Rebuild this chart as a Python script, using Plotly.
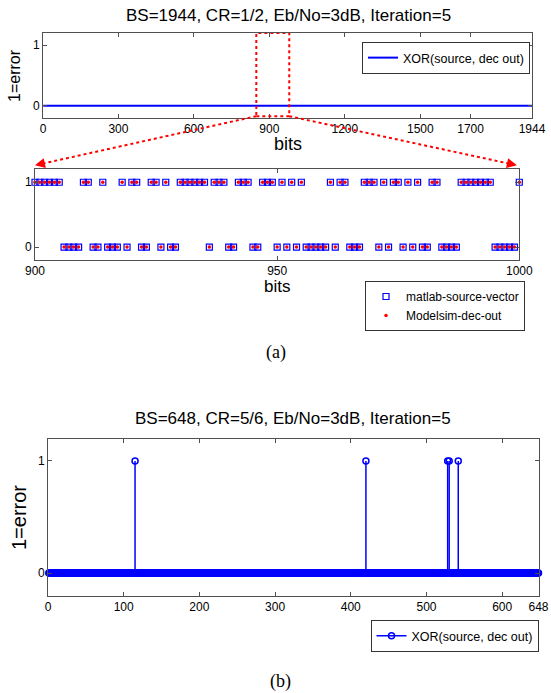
import plotly.graph_objects as go

W, H = 551, 693
FONT = "Liberation Sans, Arial, Helvetica, sans-serif"
SERIF = "Liberation Serif, Times New Roman, serif"
BLUE = "#0000FF"
RED = "#FF0000"

# ---------------- data ----------------
# (a) BS=1944 : XOR(source, dec out) over all bits -> no errors
a_block_size = 1944
a_error_positions = []                      # bits where XOR == 1
a_xticks = [0, 300, 600, 900, 1200, 1500, 1700, 1944]
a_zoom_box = [848, 979]                     # dotted red window on the top plot

# (a) zoomed view, bits 900..1000 (source vector == decoder output)
zoom_first_bit = 900
zoom_bits = ("1111110000" "1100100010" "1100110100" "1111110111" "0011100111"
             "0101010000" "0101100011" "1010110101" "0011000011" "1111100000" "1")
zoom_xticks = [900, 950, 1000]

# (b) BS=648 : XOR(source, dec out)
b_block_size = 648
b_error_positions = [115, 420, 528, 530, 542]
b_xticks = [0, 100, 200, 300, 400, 500, 600, 648]

# ---------------- derived series ----------------
a_x = list(range(1, a_block_size + 1))
a_y = [1 if i in a_error_positions else 0 for i in a_x]

z_x = [zoom_first_bit + i for i in range(len(zoom_bits))]
z_src = [int(c) for c in zoom_bits]
z_dec = [int(c) for c in zoom_bits]

b_x = list(range(1, b_block_size + 1))
b_y = [1 if i in b_error_positions else 0 for i in b_x]

# ---------------- layout geometry (pixels -> paper) ----------------
def px(x):
    return x / W

def py(y):
    return 1 - y / H

dom_a = dict(x=[px(43), px(532)], y=[py(118), py(33)])
dom_z = dict(x=[px(35), px(519.3)], y=[py(260), py(169.3)])
dom_b = dict(x=[px(48), px(538.5)], y=[py(595.5), py(438.5)])
YR = [-0.2, 1.2]
XR_A = [0, a_block_size]
XR_Z = [zoom_first_bit, zoom_first_bit + len(zoom_bits) - 1]
XR_B = [0, b_block_size]


def to_paper(dom, xr, yr, x, y):
    fx = dom["x"][0] + (x - xr[0]) / (xr[1] - xr[0]) * (dom["x"][1] - dom["x"][0])
    fy = dom["y"][0] + (y - yr[0]) / (yr[1] - yr[0]) * (dom["y"][1] - dom["y"][0])
    return fx, fy


fig = go.Figure()

# top plot line
fig.add_trace(go.Scatter(x=a_x, y=a_y, mode="lines", name="XOR(source, dec out)",
                         line=dict(color=BLUE, width=2), xaxis="x", yaxis="y",
                         legend="legend"))

# zoom plot
fig.add_trace(go.Scatter(x=z_x, y=z_src, mode="markers", name="matlab-source-vector",
                         marker=dict(symbol="square-open", size=6, color=BLUE,
                                     line=dict(width=1.2, color=BLUE)),
                         xaxis="x2", yaxis="y2", legend="legend2", cliponaxis=False))
fig.add_trace(go.Scatter(x=z_x, y=z_dec, mode="markers", name="Modelsim-dec-out",
                         marker=dict(symbol="circle", size=3.5, color=RED),
                         xaxis="x2", yaxis="y2", legend="legend2", cliponaxis=False))

# bottom stem plot
fig.add_trace(go.Scatter(x=b_x, y=b_y, mode="markers", showlegend=False,
                         marker=dict(symbol="circle-open", size=6, color=BLUE,
                                     line=dict(width=1.5, color=BLUE)),
                         error_y=dict(type="data", symmetric=False,
                                      array=[0] * len(b_y), arrayminus=b_y,
                                      width=0, thickness=1.5, color=BLUE),
                         xaxis="x3", yaxis="y3", cliponaxis=False))
fig.add_trace(go.Scatter(x=[None], y=[None], mode="lines+markers",
                         name="XOR(source, dec out)",
                         line=dict(color=BLUE, width=1.5),
                         marker=dict(symbol="circle-open", size=6, color=BLUE,
                                     line=dict(width=1.5, color=BLUE)),
                         xaxis="x3", yaxis="y3", legend="legend3"))

axcommon = dict(showline=True, linecolor="#505050", linewidth=1, mirror="ticks",
                ticks="inside", ticklen=4, tickcolor="#505050", showgrid=False,
                zeroline=False, automargin=False,
                tickfont=dict(family=FONT, size=12, color="black"))

fig.update_layout(
    width=W, height=H, margin=dict(l=0, r=0, t=0, b=0, pad=0),
    paper_bgcolor="white", plot_bgcolor="white",
    font=dict(family=FONT, color="black"),
    xaxis=dict(domain=dom_a["x"], range=XR_A, tickvals=a_xticks, anchor="y", **axcommon),
    yaxis=dict(domain=dom_a["y"], range=YR, tickvals=[0, 1], anchor="x", **axcommon),
    xaxis2=dict(domain=dom_z["x"], range=XR_Z, tickvals=zoom_xticks, anchor="y2", **axcommon),
    yaxis2=dict(domain=dom_z["y"], range=YR, tickvals=[0, 1], anchor="x2", **axcommon),
    xaxis3=dict(domain=dom_b["x"], range=XR_B, tickvals=b_xticks, anchor="y3", **axcommon),
    yaxis3=dict(domain=dom_b["y"], range=YR, tickvals=[0, 1], anchor="x3", **axcommon),
    legend=dict(x=px(530), y=py(42), xanchor="right", yanchor="top",
                bgcolor="white", bordercolor="#333333", borderwidth=1,
                font=dict(family=FONT, size=12.5), tracegroupgap=0),
    legend2=dict(x=px(525), y=py(281), xanchor="right", yanchor="top",
                 bgcolor="white", bordercolor="#333333", borderwidth=1,
                 font=dict(family=FONT, size=12), tracegroupgap=0),
    legend3=dict(x=px(538.5), y=py(620), xanchor="right", yanchor="top",
                 bgcolor="white", bordercolor="#333333", borderwidth=1,
                 font=dict(family=FONT, size=12.5), tracegroupgap=0),
)

# red dotted zoom window on top plot
fig.add_shape(type="rect", xref="x", yref="y", x0=a_zoom_box[0], x1=a_zoom_box[1],
              y0=-0.17, y1=1.2, line=dict(color=RED, width=2, dash="dot"))

# dotted arrows from window to zoom plot
starts = [to_paper(dom_a, XR_A, YR, a_zoom_box[0], -0.17),
          to_paper(dom_a, XR_A, YR, a_zoom_box[1], -0.17)]
ends = [to_paper(dom_z, XR_Z, YR, XR_Z[0], 1.2),
        to_paper(dom_z, XR_Z, YR, XR_Z[1] - 0.5, 1.2)]
for (sx, sy), (ex, ey) in zip(starts, ends):
    ey = ey + 4 / H
    dxp, dyp = (ex - sx) * W, (sy - ey) * H
    L = (dxp ** 2 + dyp ** 2) ** 0.5
    ux, uy = dxp / L, dyp / L
    fig.add_shape(type="line", xref="paper", yref="paper", x0=sx, y0=sy,
                  x1=ex - ux * 6 / W, y1=ey + uy * 6 / H,
                  line=dict(color=RED, width=2, dash="dot"))
    fig.add_annotation(xref="paper", yref="paper", x=ex, y=ey, text="",
                       showarrow=True, arrowhead=2, arrowsize=1, arrowwidth=2,
                       arrowcolor=RED, ax=-ux * 10, ay=-uy * 10)

texts = [
    ("BS=1944, CR=1/2, Eb/No=3dB, Iteration=5", 288, 15, 17, FONT, 0),
    ("1=error", 14, 76, 16, FONT, -90),
    ("bits", 288, 144, 18, FONT, 0),
    ("bits", 277, 286, 17, FONT, 0),
    ("(a)", 276, 352, 18, SERIF, 0),
    ("BS=648, CR=5/6, Eb/No=3dB, Iteration=5", 293, 418, 17, FONT, 0),
    ("1=error", 19, 518, 20, FONT, -90),
    ("(b)", 280, 681, 18, SERIF, 0),
]
for t, x, y, s, f, ang in texts:
    fig.add_annotation(xref="paper", yref="paper", x=px(x), y=py(y), text=t,
                       showarrow=False, xanchor="center", yanchor="middle",
                       textangle=ang, font=dict(family=f, size=s, color="black"))

fig.write_html("out.html", config={"displayModeBar": False},
               post_script="document.body.style.margin='0';"
                           "document.body.style.overflow='hidden';")
